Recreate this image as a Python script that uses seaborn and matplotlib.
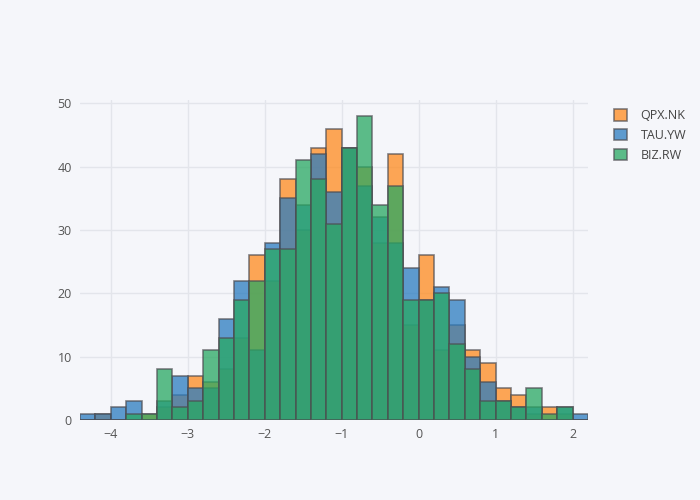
import numpy as np
import pandas as pd
import matplotlib
matplotlib.use("Agg")
import matplotlib.pyplot as plt
import seaborn as sns

# bins of width 0.2 from -4.4 to 2.2 (33 bins)
bin_edges = [round(-4.4 + 0.2 * i, 1) for i in range(34)]
bin_centers = [round(-4.3 + 0.2 * i, 1) for i in range(33)]

# counts, one per bin
qpx_counts = [0, 1, 0, 0, 1, 2, 4, 7, 6, 8, 13, 26, 22, 38, 30, 43, 46,
              43, 40, 28, 42, 15, 26, 11, 15, 11, 9, 5, 4, 1, 2, 1, 0]
tau_counts = [1, 1, 2, 3, 0, 3, 7, 5, 5, 16, 22, 11, 28, 35, 34, 42, 36,
              43, 37, 32, 28, 24, 19, 21, 19, 10, 6, 3, 2, 2, 0, 2, 1]
biz_counts = [0, 0, 0, 1, 1, 8, 2, 3, 11, 13, 19, 22, 27, 27, 41, 38, 31,
              43, 48, 34, 37, 19, 19, 20, 12, 8, 3, 3, 2, 5, 1, 2, 0]

series_names = ["QPX.NK", "TAU.YW", "BIZ.RW"]
series_colors = ["#FF8A1E", "#2A7CC0", "#28A862"]

bg = "#F5F6FA"
sns.set_theme(style="white")
plt.rcParams["font.family"] = ["Open Sans", "DejaVu Sans"]

df = pd.concat([
    pd.DataFrame({"x": bin_centers, "count": qpx_counts, "series": series_names[0]}),
    pd.DataFrame({"x": bin_centers, "count": tau_counts, "series": series_names[1]}),
    pd.DataFrame({"x": bin_centers, "count": biz_counts, "series": series_names[2]}),
])

fig = plt.figure(figsize=(7, 5), dpi=100, facecolor=bg)
ax = fig.add_axes([80 / 700, 80 / 500, 508 / 700, 320 / 500])
ax.set_facecolor(bg)

# draw each trace in order so the last one sits on top
for name, color in zip(series_names, series_colors):
    sns.histplot(data=df[df["series"] == name], x="x", weights="count",
                 bins=bin_edges, color=color, alpha=0.75,
                 edgecolor=(0.3, 0.3, 0.32, 0.7), linewidth=1.2,
                 ax=ax, label=name)

ax.set_xlim(-4.4, 2.2)
ax.set_ylim(0, 50.5)
ax.set_xticks([-4, -3, -2, -1, 0, 1, 2])
ax.set_xticklabels(["\u22124", "\u22123", "\u22122", "\u22121", "0", "1", "2"])
ax.set_yticks([0, 10, 20, 30, 40, 50])
ax.set_xlabel("")
ax.set_ylabel("")
ax.grid(True, color="#E3E5EB", linewidth=1)
ax.set_axisbelow(True)
for s in ax.spines.values():
    s.set_visible(False)
ax.tick_params(axis="both", length=0, labelsize=9, colors="#555555", pad=6)

handles, labels = ax.get_legend_handles_labels()
leg = fig.legend(handles, labels, loc="upper left", bbox_to_anchor=(603 / 700, 1 - 98 / 500),
                 frameon=False, fontsize=9, handlelength=1.0, handleheight=1.0,
                 handletextpad=1.1, labelspacing=0.55, labelcolor="#444444")

fig.savefig("out.png", dpi=100, facecolor=bg)
